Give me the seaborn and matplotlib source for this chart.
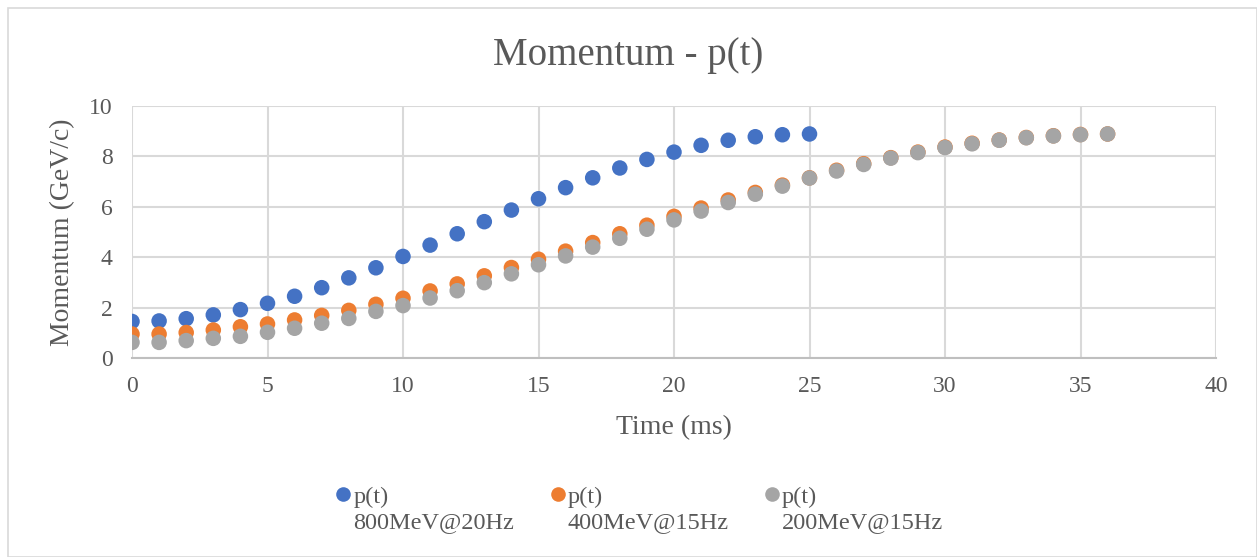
import numpy as np
import pandas as pd
import matplotlib
matplotlib.use("Agg")
import matplotlib.pyplot as plt
import seaborn as sns
from matplotlib.patches import Rectangle
from matplotlib.legend_handler import HandlerLine2D

# ---- data ----
t_800 = list(range(0, 26))
p_800 = [1.45, 1.47, 1.56, 1.71, 1.92, 2.17, 2.45, 2.79, 3.18, 3.58, 4.03, 4.48, 4.93,
         5.41, 5.87, 6.32, 6.76, 7.15, 7.54, 7.88, 8.17, 8.44, 8.64, 8.78, 8.86, 8.89]
t_400 = list(range(0, 37))
p_400 = [0.95, 0.95, 1.01, 1.11, 1.24, 1.35, 1.51, 1.69, 1.89, 2.13, 2.37, 2.66, 2.94,
         3.26, 3.59, 3.92, 4.24, 4.58, 4.93, 5.27, 5.62, 5.95, 6.27, 6.57, 6.86, 7.15,
         7.45, 7.71, 7.95, 8.17, 8.37, 8.52, 8.65, 8.75, 8.82, 8.87, 8.89]
t_200 = list(range(0, 37))
p_200 = [0.62, 0.62, 0.69, 0.78, 0.86, 1.02, 1.18, 1.38, 1.57, 1.85, 2.08, 2.38, 2.67,
         2.99, 3.34, 3.70, 4.05, 4.40, 4.75, 5.11, 5.48, 5.83, 6.17, 6.50, 6.82, 7.14,
         7.42, 7.68, 7.93, 8.15, 8.35, 8.50, 8.64, 8.74, 8.81, 8.86, 8.89]
series_names = ["p(t)\n800MeV@20Hz", "p(t)\n400MeV@15Hz", "p(t)\n200MeV@15Hz"]
series_colors = ["#4472C4", "#ED7D31", "#A5A5A5"]
x_ticks = [0, 5, 10, 15, 20, 25, 30, 35, 40]
y_ticks = [0, 2, 4, 6, 8, 10]

df = pd.concat([
    pd.DataFrame({"Time (ms)": t_800, "Momentum (GeV/c)": p_800, "series": series_names[0]}),
    pd.DataFrame({"Time (ms)": t_400, "Momentum (GeV/c)": p_400, "series": series_names[1]}),
    pd.DataFrame({"Time (ms)": t_200, "Momentum (GeV/c)": p_200, "series": series_names[2]}),
], ignore_index=True)

sns.set_theme(style="white")
plt.rcParams["font.family"] = ["Liberation Serif", "DejaVu Serif"]
text_col = "#595959"

W, H = 1257, 557
fig = plt.figure(figsize=(W / 100, H / 100), dpi=100)
ax = fig.add_axes([132 / W, 1 - 358 / H, (1216 - 132) / W, (358 - 106) / H])

sns.scatterplot(data=df, x="Time (ms)", y="Momentum (GeV/c)", hue="series",
                hue_order=series_names, palette=series_colors, s=125,
                edgecolor="none", linewidth=0, ax=ax, zorder=3)

ax.set_xlim(0, 40)
ax.set_ylim(0, 10)
ax.set_xticks(x_ticks)
ax.set_yticks(y_ticks)
ax.grid(True, color="#D9D9D9", linewidth=1.5, zorder=0)
ax.set_axisbelow(True)
for side in ["top", "right", "left"]:
    ax.spines[side].set_visible(False)
ax.spines["bottom"].set_color("#BFBFBF")
ax.spines["bottom"].set_linewidth(1.5)
ax.tick_params(axis="x", length=0, labelsize=17, labelcolor=text_col, pad=13)
ax.tick_params(axis="y", length=0, labelsize=17, labelcolor=text_col, pad=14)
ax.set_xlabel("Time (ms)", fontsize=20, color=text_col)
ax.set_ylabel("Momentum (GeV/c)", fontsize=20, color=text_col)
ax.xaxis.set_label_coords(0.5, (358 - 428) / 252)
ax.xaxis.label.set_va("center")
ax.yaxis.set_label_coords((63 - 132) / 1084, 0.5)
ax.yaxis.label.set_va("center")

fig.text(0.5, 1 - 55 / H, "Momentum - p(t)", ha="center", va="center",
         fontsize=28, color=text_col)


class UpperMarker(HandlerLine2D):
    def create_artists(self, legend, orig_handle, xdescent, ydescent, width, height,
                       fontsize, trans):
        arts = super().create_artists(legend, orig_handle, xdescent, ydescent, width,
                                      height, fontsize, trans)
        for a in arts:
            yd = a.get_ydata()
            a.set_ydata(np.asarray(yd) + 0.62 * fontsize)
        return arts


ax.legend_.remove()
handles = [plt.Line2D([], [], marker="o", linestyle="none", markersize=10.5,
                      markerfacecolor=c, markeredgecolor="none") for c in series_colors]
leg = fig.legend(handles, series_names, loc="center", bbox_to_anchor=(0.508, 1 - 510 / H),
                 ncol=3, frameon=False, fontsize=17.5, handletextpad=0.0,
                 columnspacing=1.4, labelcolor=text_col, handlelength=0.8,
                 handler_map={plt.Line2D: UpperMarker()})
for txt in leg.get_texts():
    txt.set_linespacing(1.2)

fig.patches.append(Rectangle((8 / W, 0), 1 - 8 / W, 1 - 8 / H,
                             transform=fig.transFigure, fill=False,
                             edgecolor="#D9D9D9", linewidth=1.2))

fig.savefig("out.png", dpi=100, facecolor="white")
